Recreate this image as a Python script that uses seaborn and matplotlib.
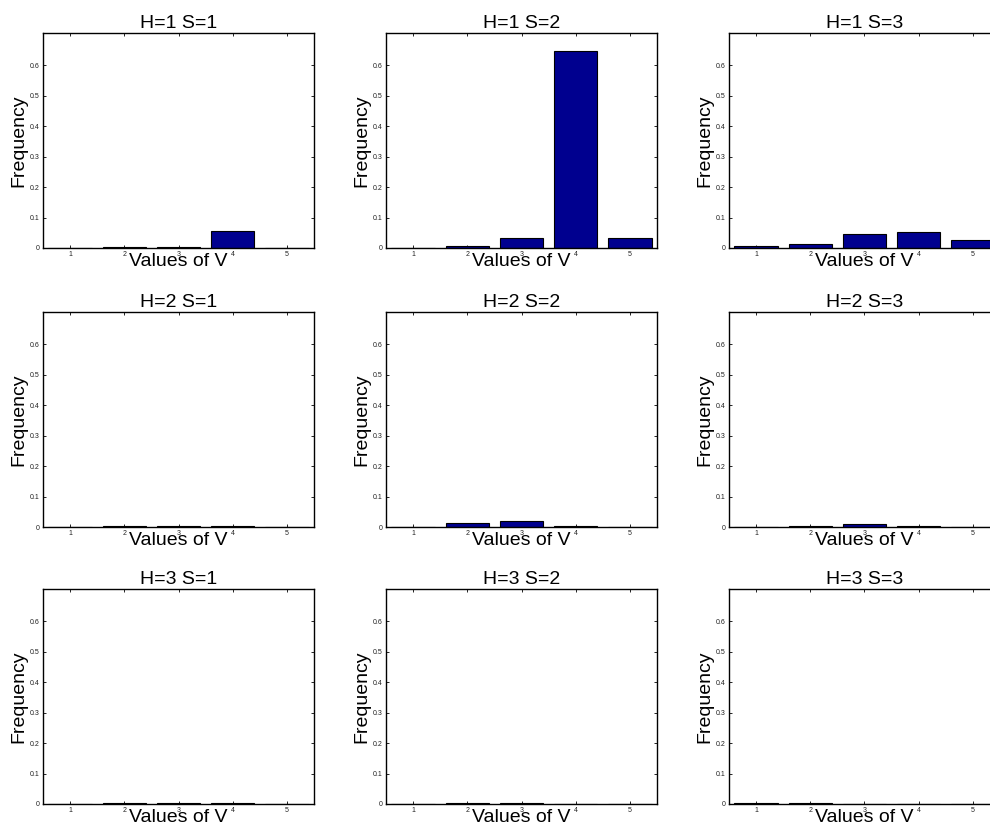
import matplotlib
matplotlib.use("Agg")
import matplotlib.pyplot as plt
import seaborn as sns
import pandas as pd

sns.set_style("white")
plt.rcParams["font.family"] = ["Liberation Sans", "DejaVu Sans"]
plt.rcParams["text.color"] = "black"
plt.rcParams["axes.labelcolor"] = "black"

# Values of V on the x axis
v_values = [1, 2, 3, 4, 5]

# Frequency of each V value for every (H, S) combination
freq_h1_s1 = [0.000, 0.002, 0.002, 0.057, 0.001]
freq_h1_s2 = [0.000, 0.008, 0.034, 0.646, 0.034]
freq_h1_s3 = [0.006, 0.014, 0.046, 0.054, 0.025]
freq_h2_s1 = [0.000, 0.004, 0.003, 0.002, 0.001]
freq_h2_s2 = [0.001, 0.012, 0.021, 0.002, 0.001]
freq_h2_s3 = [0.001, 0.002, 0.009, 0.002, 0.001]
freq_h3_s1 = [0.000, 0.003, 0.002, 0.002, 0.000]
freq_h3_s2 = [0.001, 0.003, 0.003, 0.001, 0.000]
freq_h3_s3 = [0.002, 0.002, 0.000, 0.000, 0.000]

panels = [
    [freq_h1_s1, freq_h1_s2, freq_h1_s3],
    [freq_h2_s1, freq_h2_s2, freq_h2_s3],
    [freq_h3_s1, freq_h3_s2, freq_h3_s3],
]

y_ticks = [0, 0.1, 0.2, 0.3, 0.4, 0.5, 0.6]
y_tick_labels = ["0", "0.1", "0.2", "0.3", "0.4", "0.5", "0.6"]

BAR_COLOR = "#00008F"
W, H = 990, 834
fig = plt.figure(figsize=(W / 100, H / 100), dpi=100)

col_left = [43, 386, 729]
row_top = [33, 312, 589]
ax_w, ax_h = 271, 215

for r in range(3):
    for c in range(3):
        left = col_left[c] / W
        bottom = (H - row_top[r] - ax_h) / H
        ax = fig.add_axes([left, bottom, ax_w / W, ax_h / H])
        df = pd.DataFrame({"V": v_values, "Frequency": panels[r][c]})
        sns.barplot(data=df, x="V", y="Frequency", native_scale=True,
                    color=BAR_COLOR, saturation=1, edgecolor="black",
                    linewidth=0.8, width=0.8, ax=ax)
        ax.set_xlim(0.5, 5.5)
        ax.set_ylim(0, 0.705)
        ax.set_xticks(v_values)
        ax.set_xticklabels([str(v) for v in v_values])
        ax.set_yticks(y_ticks)
        ax.set_yticklabels(y_tick_labels)
        ax.tick_params(direction="in", length=2.5, width=0.6, labelsize=5,
                       pad=2.5, top=True, right=True, bottom=True, left=True,
                       colors="black", labelcolor="#222222")
        for sp in ax.spines.values():
            sp.set_visible(True)
            sp.set_linewidth(1.0)
            sp.set_color("black")
        ax.set_title(f"H={r + 1} S={c + 1}", fontsize=14, pad=3.5)
        ax.set_xlabel("Values of V", fontsize=14)
        ax.set_ylabel("Frequency", fontsize=14)
        ax.xaxis.set_label_coords(0.5, -0.022)
        ax.yaxis.set_label_coords(-0.058, 0.5)

fig.savefig("out.png", dpi=100)
